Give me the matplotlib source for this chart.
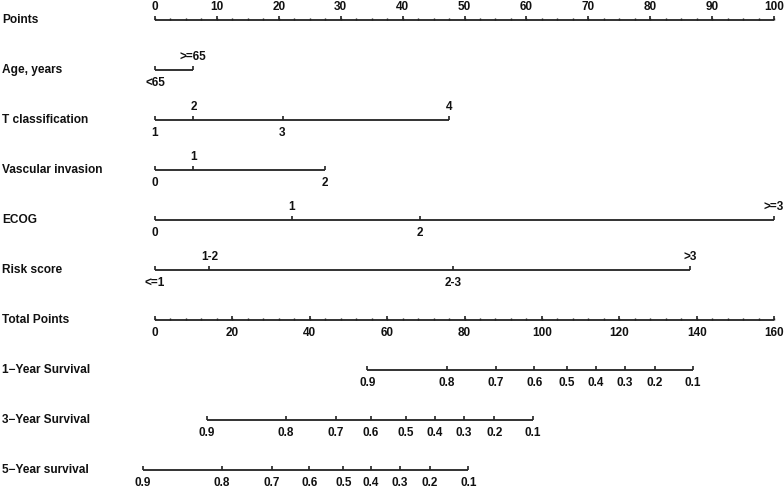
import numpy as np
import matplotlib
matplotlib.use("Agg")
import matplotlib.pyplot as plt
from matplotlib.transforms import blended_transform_factory

plt.rcParams['font.family'] = ['Liberation Sans', 'DejaVu Sans']

# points per level for each predictor (0-100 point scale)
age_levels = ['<65', '>=65']
age_pts = [0, 6.1]
t_levels = ['1', '2', '3', '4']
t_pts = [0, 6.2, 20.6, 47.5]
vasc_levels = ['0', '1', '2']
vasc_pts = [0, 6.2, 27.5]
ecog_levels = ['0', '1', '2', '>=3']
ecog_pts = [0, 22.1, 42.8, 100]
risk_levels = ['<=1', '1-2', '2-3', '>3']
risk_pts = [0, 8.8, 48.1, 86.4]

# survival probabilities vs total points
surv_labels = ['0.9', '0.8', '0.7', '0.6', '0.5', '0.4', '0.3', '0.2', '0.1']
surv1_tp = [54.9, 75.4, 88.1, 98.0, 106.4, 114.0, 121.5, 129.2, 139.1]
surv3_tp = [13.4, 33.9, 46.7, 55.8, 64.8, 72.4, 79.9, 87.7, 97.6]
surv5_tp = [-3.2, 17.2, 30.2, 39.9, 48.7, 55.8, 63.3, 71.1, 81.0]

row_names = ['Points', 'Age, years', 'T classification', 'Vascular invasion',
             'ECOG', 'Risk score', 'Total Points', '1\u2212Year Survival',
             '3\u2212Year Survival', '5\u2212Year survival']

max_total = 160
fs = 8.5
tick_len = 0.08
off = 0.26
lc = '#222222'

fig = plt.figure(figsize=(7.84, 4.9), dpi=100)
ax = fig.add_axes([155 / 784, 0, 619 / 784, 1])
ax.set_xlim(0, 100)
ax.set_ylim(9.4, -0.4)
ax.axis('off')

lab_tr = blended_transform_factory(fig.transFigure, ax.transData)
for i, name in enumerate(row_names):
    ax.text(2 / 784, i, name, transform=lab_tr, ha='left', va='center',
            fontsize=8.6, fontweight='bold', color='#111111')


def scale(y, xs, labels, where='alt', minor=None):
    ax.hlines(y, min(xs), max(xs), color=lc, lw=1.3, clip_on=False)
    ax.vlines(xs, y, y - tick_len, color=lc, lw=1.2, clip_on=False)
    if minor is not None:
        ax.vlines(minor, y, y - tick_len * 0.6, color=lc, lw=1.0, clip_on=False)
    for k, (x, lab) in enumerate(zip(xs, labels)):
        if where == 'alt':
            dy = off if k % 2 == 0 else -off
        elif where == 'above':
            dy = -off
        else:
            dy = off
        ax.text(x, y + dy, lab, ha='center', va='center', fontsize=fs,
                fontweight='bold', color='#111111', clip_on=False)


# Points axis
pts_major = np.arange(0, 101, 10)
scale(0, pts_major, [str(v) for v in pts_major], where='above',
      minor=np.arange(0, 100.1, 2.5))

scale(1, age_pts, age_levels)
scale(2, t_pts, t_levels)
scale(3, vasc_pts, vasc_levels)
scale(4, ecog_pts, ecog_levels)
scale(5, risk_pts, risk_levels)

# Total points axis
tp_major = np.arange(0, max_total + 1, 20)
scale(6, tp_major * 100 / max_total, [str(v) for v in tp_major], where='below',
      minor=np.arange(0, max_total + 0.1, 4) * 100 / max_total)

for row, tp in zip([7, 8, 9], [surv1_tp, surv3_tp, surv5_tp]):
    scale(row, np.array(tp) * 100 / max_total, surv_labels, where='below')

fig.savefig('out.png', dpi=100)
